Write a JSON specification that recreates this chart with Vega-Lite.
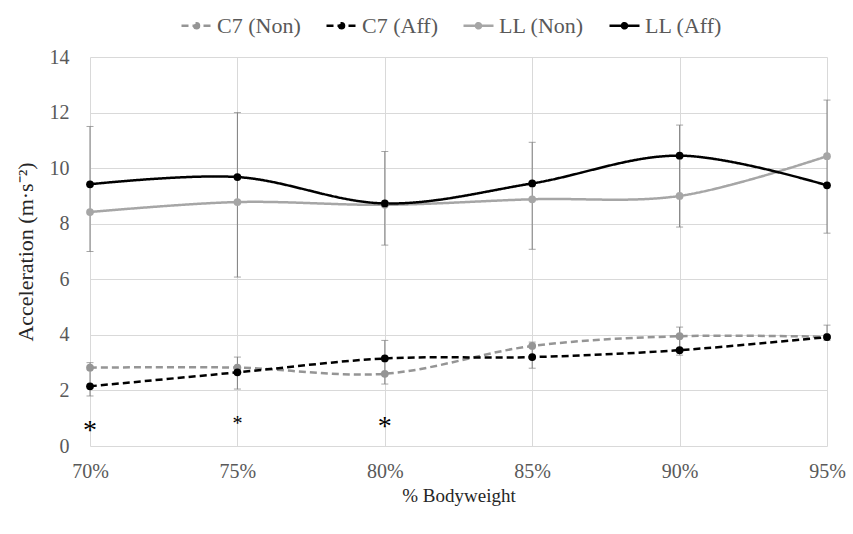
{
  "$schema": "https://vega.github.io/schema/vega-lite/v6.json",
  "width": 737,
  "height": 389,
  "autosize": "none",
  "padding": {"left": 90, "top": 57, "right": 26, "bottom": 88},
  "background": "white",
  "config": {
    "font": "'Liberation Serif', serif",
    "view": {"stroke": null},
    "text": {"font": "'Liberation Serif', serif"},
    "legend": {"labelFont": "'Liberation Serif', serif", "titleFont": "'Liberation Serif', serif"},
    "axis": {"labelFont": "'Liberation Serif', serif", "titleFont": "'Liberation Serif', serif", "labelColor": "#595959", "titleColor": "#262626", "labelFontSize": 20, "titleFontSize": 20, "titleFontWeight": "normal", "gridColor": "#d9d9d9", "domain": false, "ticks": false}
  },
  "datasets": {
    "means": [
      {"bw": "70%", "series": "C7 (Non)", "value": 2.82},
      {"bw": "75%", "series": "C7 (Non)", "value": 2.82},
      {"bw": "80%", "series": "C7 (Non)", "value": 2.6},
      {"bw": "85%", "series": "C7 (Non)", "value": 3.6},
      {"bw": "90%", "series": "C7 (Non)", "value": 3.95},
      {"bw": "95%", "series": "C7 (Non)", "value": 3.93},
      {"bw": "70%", "series": "C7 (Aff)", "value": 2.15},
      {"bw": "75%", "series": "C7 (Aff)", "value": 2.65},
      {"bw": "80%", "series": "C7 (Aff)", "value": 3.15},
      {"bw": "85%", "series": "C7 (Aff)", "value": 3.2},
      {"bw": "90%", "series": "C7 (Aff)", "value": 3.45},
      {"bw": "95%", "series": "C7 (Aff)", "value": 3.92},
      {"bw": "70%", "series": "LL (Non)", "value": 8.42},
      {"bw": "75%", "series": "LL (Non)", "value": 8.78},
      {"bw": "80%", "series": "LL (Non)", "value": 8.68},
      {"bw": "85%", "series": "LL (Non)", "value": 8.88},
      {"bw": "90%", "series": "LL (Non)", "value": 9.0},
      {"bw": "95%", "series": "LL (Non)", "value": 10.43},
      {"bw": "70%", "series": "LL (Aff)", "value": 9.42},
      {"bw": "75%", "series": "LL (Aff)", "value": 9.68},
      {"bw": "80%", "series": "LL (Aff)", "value": 8.73},
      {"bw": "85%", "series": "LL (Aff)", "value": 9.45},
      {"bw": "90%", "series": "LL (Aff)", "value": 10.45},
      {"bw": "95%", "series": "LL (Aff)", "value": 9.38}
    ],
    "errors": [
      {"bw": "70%", "group": "LL", "lo": 7.0, "hi": 11.5},
      {"bw": "75%", "group": "LL", "lo": 6.08, "hi": 12.0},
      {"bw": "80%", "group": "LL", "lo": 7.23, "hi": 10.6},
      {"bw": "85%", "group": "LL", "lo": 7.08, "hi": 10.93},
      {"bw": "90%", "group": "LL", "lo": 7.88, "hi": 11.55},
      {"bw": "95%", "group": "LL", "lo": 7.66, "hi": 12.45},
      {"bw": "70%", "group": "C7", "lo": 1.8, "hi": 3.0},
      {"bw": "75%", "group": "C7", "lo": 2.05, "hi": 3.2},
      {"bw": "80%", "group": "C7", "lo": 2.23, "hi": 3.8},
      {"bw": "85%", "group": "C7", "lo": 2.8, "hi": 3.74},
      {"bw": "90%", "group": "C7", "lo": 3.27, "hi": 4.28},
      {"bw": "95%", "group": "C7", "lo": 3.8, "hi": 4.35}
    ],
    "starsBig": [
      {"bw": "70%", "y": 0.75, "label": "*"},
      {"bw": "80%", "y": 0.9, "label": "*"}
    ],
    "starsSmall": [
      {"bw": "75%", "y": 0.95, "label": "*"}
    ]
  },
  "layer": [
    {
      "data": {"name": "errors"},
      "mark": {"type": "rule", "color": "#7f7f7f", "strokeWidth": 1},
      "encoding": {
        "x": {"field": "bw", "type": "ordinal", "scale": {"type": "point", "padding": 0}, "sort": null,
              "axis": {"title": "% Bodyweight", "labelAngle": 0, "grid": true, "labelPadding": 15, "titlePadding": 5, "titleFontSize": 19}},
        "y": {"field": "lo", "type": "quantitative", "scale": {"domain": [0, 14], "nice": false},
              "axis": {"title": "Acceleration (m·s⁻²)", "titleFontSize": 22, "values": [0, 2, 4, 6, 8, 10, 12, 14], "labelPadding": 21, "titlePadding": 12}},
        "y2": {"field": "hi"}
      }
    },
    {
      "data": {"name": "errors"},
      "mark": {"type": "tick", "color": "#7f7f7f", "thickness": 1, "size": 7, "orient": "horizontal"},
      "encoding": {"x": {"field": "bw", "type": "ordinal", "sort": null}, "y": {"field": "lo", "type": "quantitative"}}
    },
    {
      "data": {"name": "errors"},
      "mark": {"type": "tick", "color": "#7f7f7f", "thickness": 1, "size": 7, "orient": "horizontal"},
      "encoding": {"x": {"field": "bw", "type": "ordinal", "sort": null}, "y": {"field": "hi", "type": "quantitative"}}
    },
    {
      "data": {"name": "means"},
      "mark": {"type": "line", "interpolate": "catmull-rom", "strokeWidth": 2.5},
      "encoding": {
        "x": {"field": "bw", "type": "ordinal", "sort": null},
        "y": {"field": "value", "type": "quantitative"},
        "color": {"field": "series", "type": "nominal",
                  "scale": {"domain": ["C7 (Non)", "C7 (Aff)", "LL (Non)", "LL (Aff)"], "range": ["#959595", "#000000", "#a6a6a6", "#000000"]},
                  "legend": {"title": null, "orient": "none", "legendX": 90, "legendY": -48, "direction": "horizontal",
                             "labelFontSize": 22, "labelColor": "#595959",
                             "symbolType": "M-1,0H1M0.17,0A0.17,0.17,0,1,1,-0.17,0A0.17,0.17,0,1,1,0.17,0Z", "symbolSize": 900, "symbolStrokeWidth": 2.5, "columnPadding": 20, "labelOffset": 4,
                             "encode": {"symbols": {"update": {"strokeDash": {"signal": "indexof(datum.value, 'C7') === 0 ? [6, 4] : [1, 0]"}}}}}},
        "strokeDash": {"field": "series", "type": "nominal",
                       "scale": {"domain": ["C7 (Non)", "C7 (Aff)", "LL (Non)", "LL (Aff)"], "range": [[7, 4], [7, 4], [1, 0], [1, 0]]},
                       "legend": null}
      }
    },
    {
      "data": {"name": "means"},
      "mark": {"type": "point", "filled": true, "opacity": 1, "size": 60},
      "encoding": {
        "x": {"field": "bw", "type": "ordinal", "sort": null},
        "y": {"field": "value", "type": "quantitative"},
        "color": {"field": "series", "type": "nominal", "legend": null}
      }
    },
    {
      "data": {"name": "starsBig"},
      "mark": {"type": "text", "fontSize": 28, "color": "#000000", "baseline": "middle", "dy": 6},
      "encoding": {"x": {"field": "bw", "type": "ordinal", "sort": null}, "y": {"field": "y", "type": "quantitative"}, "text": {"field": "label"}}
    },
    {
      "data": {"name": "starsSmall"},
      "mark": {"type": "text", "fontSize": 20, "color": "#000000", "baseline": "middle", "dy": 4},
      "encoding": {"x": {"field": "bw", "type": "ordinal", "sort": null}, "y": {"field": "y", "type": "quantitative"}, "text": {"field": "label"}}
    }
  ]
}
